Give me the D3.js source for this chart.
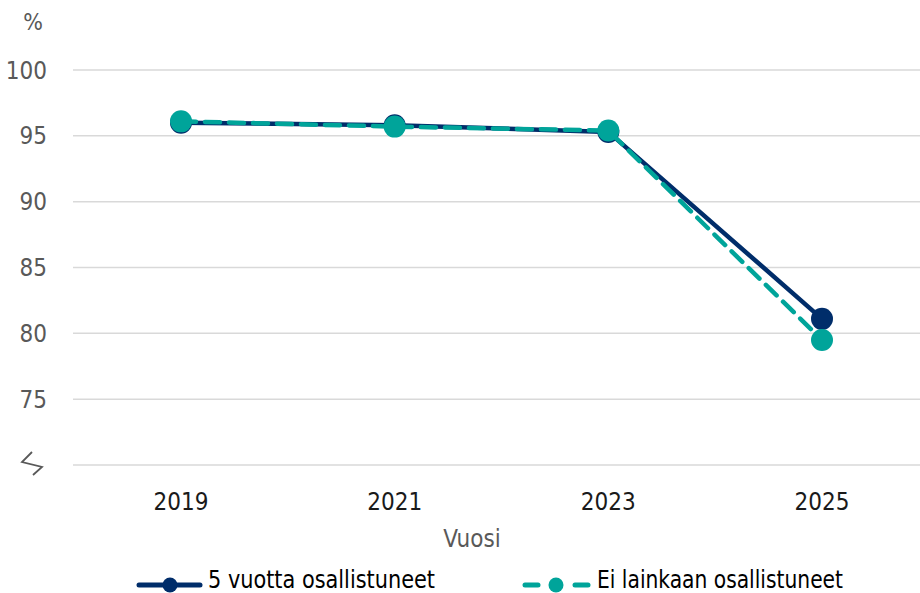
<!DOCTYPE html>
<html>
<head>
<meta charset="utf-8">
<script src="https://cdn.jsdelivr.net/npm/d3@7"></script>
<style>
  body { margin: 0; background: #fff; }
  text { font-family: "Liberation Sans Narrow", "DejaVu Sans Condensed", "Open Sans", sans-serif; }
</style>
</head>
<body>
<div id="chart"></div>
<script>
// data
const years = ["2019", "2021", "2023", "2025"];
const fiveYears = [96.0, 95.8, 95.3, 81.1];
const notAtAll = [96.1, 95.7, 95.4, 79.5];
const yTicks = [75, 80, 85, 90, 95, 100];
const seriesNames = ["5 vuotta osallistuneet", "Ei lainkaan osallistuneet"];

const width = 920, height = 593;
const svg = d3.select("#chart").append("svg")
    .attr("width", width)
    .attr("height", height);

const x = d3.scalePoint()
    .domain(years)
    .range([181, 822]);

const y = d3.scaleLinear()
    .domain([70, 100])
    .range([465, 70]);

// gridlines (bottom one sits at the axis break)
svg.append("g")
    .selectAll("line")
    .data([70].concat(yTicks))
    .join("line")
    .attr("x1", 73)
    .attr("x2", width)
    .attr("y1", d => y(d))
    .attr("y2", d => y(d))
    .attr("stroke", "#d9d9d9")
    .attr("stroke-width", 1.5);

// y tick labels
svg.append("g")
    .selectAll("text")
    .data(yTicks)
    .join("text")
    .attr("x", 47)
    .attr("y", d => y(d))
    .attr("dy", "0.36em")
    .attr("text-anchor", "end")
    .attr("fill", "#595959")
    .style("font-size", "24px")
    .text(d => d);

// axis break symbol instead of the bottom label
svg.append("path")
    .attr("d", "M32,452 L22,462 L42,467 L33,475")
    .attr("fill", "none")
    .attr("stroke", "#595959")
    .attr("stroke-width", 1.8)
    .attr("stroke-linejoin", "miter");

svg.append("text")
    .attr("x", 33)
    .attr("y", 30)
    .attr("text-anchor", "middle")
    .attr("fill", "#595959")
    .style("font-size", "23px")
    .text("%");

// x tick labels
svg.append("g")
    .selectAll("text")
    .data(years)
    .join("text")
    .attr("x", d => x(d))
    .attr("y", 510)
    .attr("text-anchor", "middle")
    .attr("fill", "#1a1a1a")
    .style("font-size", "24px")
    .text(d => d);

svg.append("text")
    .attr("x", 472)
    .attr("y", 547)
    .attr("text-anchor", "middle")
    .attr("fill", "#595959")
    .style("font-size", "24px")
    .text("Vuosi");

const line = d3.line()
    .x((d, i) => x(years[i]))
    .y(d => y(d));

const series = [
    { name: seriesNames[0], values: fiveYears, color: "#002d6a", dash: null },
    { name: seriesNames[1], values: notAtAll, color: "#00a49a", dash: "15,9" }
];

series.forEach(function (s) {
    svg.append("path")
        .datum(s.values)
        .attr("d", line)
        .attr("fill", "none")
        .attr("stroke", s.color)
        .attr("stroke-width", 4.5)
        .attr("stroke-linecap", "round")
        .attr("stroke-dasharray", s.dash);
    svg.append("g")
        .selectAll("circle")
        .data(s.values)
        .join("circle")
        .attr("cx", (d, i) => x(years[i]))
        .attr("cy", d => y(d))
        .attr("r", 11)
        .attr("fill", s.color);
});

// legend
const ly = 585;
const leg = svg.append("g");
leg.append("line")
    .attr("x1", 139).attr("x2", 200).attr("y1", ly).attr("y2", ly)
    .attr("stroke", series[0].color).attr("stroke-width", 5).attr("stroke-linecap", "round");
leg.append("circle").attr("cx", 170).attr("cy", ly).attr("r", 7.5).attr("fill", series[0].color);
leg.append("text")
    .attr("x", 208).attr("y", 588)
    .attr("textLength", 227).attr("lengthAdjust", "spacingAndGlyphs")
    .attr("fill", "#000").style("font-size", "24px")
    .text(series[0].name);

leg.append("line")
    .attr("x1", 525).attr("x2", 538).attr("y1", ly).attr("y2", ly)
    .attr("stroke", series[1].color).attr("stroke-width", 5).attr("stroke-linecap", "round");
leg.append("line")
    .attr("x1", 575).attr("x2", 588).attr("y1", ly).attr("y2", ly)
    .attr("stroke", series[1].color).attr("stroke-width", 5).attr("stroke-linecap", "round");
leg.append("circle").attr("cx", 556).attr("cy", ly).attr("r", 7.5).attr("fill", series[1].color);
leg.append("text")
    .attr("x", 597).attr("y", 588)
    .attr("textLength", 246).attr("lengthAdjust", "spacingAndGlyphs")
    .attr("fill", "#000").style("font-size", "24px")
    .text(series[1].name);
</script>
</body>
</html>
